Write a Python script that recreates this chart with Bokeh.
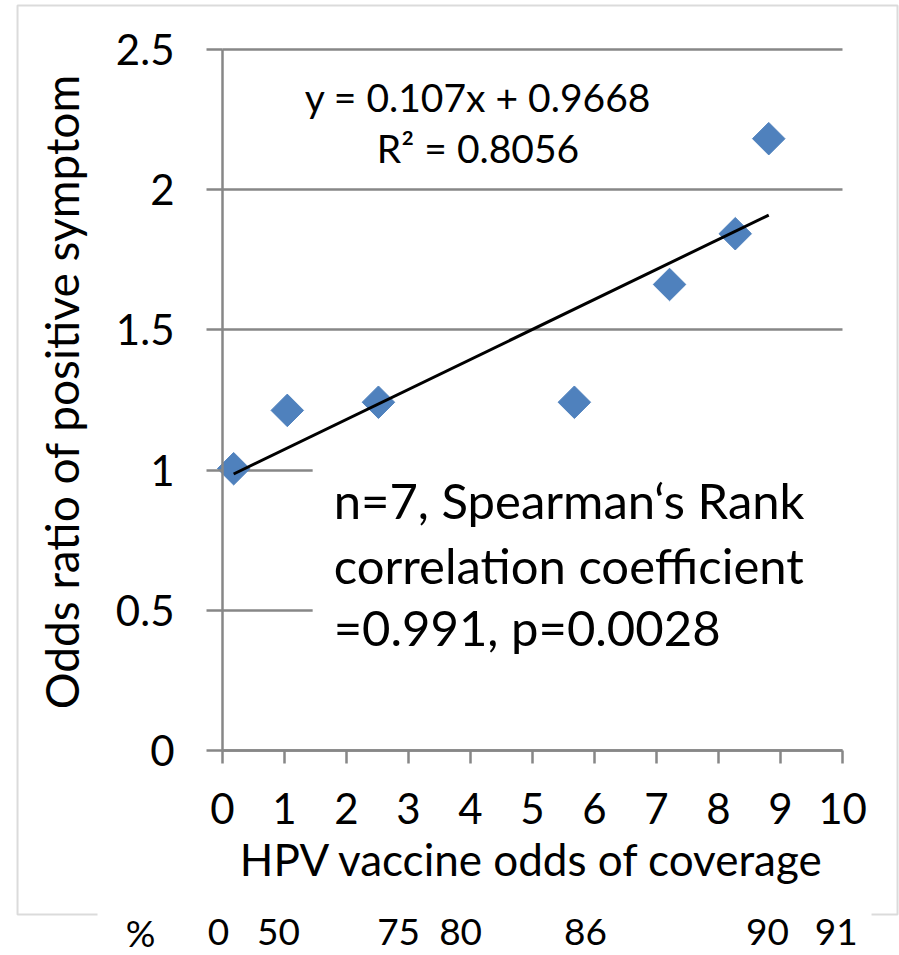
import numpy as np
from bokeh.plotting import figure
from bokeh.models import Range1d, FixedTicker, CustomJSTickFormatter, Label, BoxAnnotation
from bokeh.embed import file_html
from bokeh.resources import INLINE

# ---- data ----
x_odds = [0.18, 1.045, 2.515, 5.675, 7.21, 8.27, 8.81]
odds_ratio = [1.005, 1.213, 1.242, 1.242, 1.662, 1.843, 2.182]
slope = 0.107
intercept = 0.9668
r_squared = 0.8056
x_ticks = [0, 1, 2, 3, 4, 5, 6, 7, 8, 9, 10]
y_ticks = [0, 0.5, 1, 1.5, 2, 2.5]
pct_labels = ["0", "50", "75", "80", "86", "90", "91"]
pct_x = [-0.065, 0.903, 2.84, 3.84, 5.855, 8.79, 9.90]
stats_lines = ["n=7, Spearman\u2018s Rank", "correlation coefficient", "=0.991, p=0.0028"]
stats_y = [0.892, 0.663, 0.439]
x_title = "HPV vaccine odds of coverage"
y_title = "Odds ratio of positive symptom"

FONT = "Lato"
GRAY = "#878787"
BLUE = "#4F81BD"

# The frame covers the whole canvas; the axes sit at fixed data locations so that
# the surrounding texts and the chart border can be drawn without being clipped.
p = figure(width=899, height=955, output_backend="svg", toolbar_location=None,
           x_range=Range1d(-3.5806, 10.919), y_range=Range1d(-0.7311, 2.6748),
           min_border_left=0, min_border_right=0, min_border_top=0, min_border_bottom=0)
p.outline_line_color = None
p.background_fill_color = "white"
p.border_fill_color = "white"

p.xgrid.visible = False
p.ygrid.ticker = FixedTicker(ticks=y_ticks)
p.ygrid.bounds = (0, 2.5)
p.ygrid.cross_bounds = (0, 10)
p.ygrid.grid_line_color = GRAY
p.ygrid.grid_line_width = 2.5

fmt = CustomJSTickFormatter(code="return tick.toString();")
for ax in (p.xaxis[0], p.yaxis[0]):
    ax.fixed_location = 0
    ax.axis_line_color = GRAY
    ax.axis_line_width = 2.5
    ax.major_tick_line_color = GRAY
    ax.major_tick_line_width = 2.5
    ax.major_tick_in = 0
    ax.minor_tick_line_color = None
    ax.major_label_text_font = FONT
    ax.major_label_text_font_size = "42px"
    ax.major_label_text_color = "black"
    ax.axis_label_text_font = FONT
    ax.axis_label_text_font_style = "normal"
    ax.axis_label_text_color = "black"
    ax.formatter = fmt

p.xaxis.ticker = FixedTicker(ticks=x_ticks)
p.xaxis.bounds = (0, 10)
p.yaxis.ticker = FixedTicker(ticks=y_ticks)
p.yaxis.bounds = (0, 2.5)
p.xaxis.major_tick_out = 13
p.xaxis.major_label_standoff = 29
p.xaxis.axis_label = x_title
p.xaxis.axis_label_text_font_size = "44px"
p.xaxis.axis_label_standoff = 6
p.yaxis.major_tick_out = 16
p.yaxis.major_label_standoff = 32

# y axis title, placed where the reference shows it
p.add_layout(Label(x=-2.597, y=1.280, text=y_title, angle=np.pi / 2, text_font=FONT,
                   text_font_size="46px", text_align="center", text_baseline="middle",
                   text_color="black"))

# outer chart border
p.add_layout(BoxAnnotation(left=-3.306, right=10.887, top=2.657, bottom=-0.585,
                           fill_alpha=0, line_color=GRAY, line_width=2))

# data and trend line
p.scatter(x_odds, odds_ratio, marker="square", angle=np.pi / 4, size=23,
          fill_color=BLUE, line_color=BLUE, line_width=1)
tx = [min(x_odds), max(x_odds)]
ty = [slope * v + intercept for v in tx]
p.line(tx, ty, line_color="black", line_width=3)

# trendline equation
p.add_layout(Label(x=4.121, y=2.332, text=f"y = {slope}x + {intercept}", text_font=FONT,
                   text_font_size="39px", text_align="center", text_baseline="alphabetic",
                   text_color="black"))
p.add_layout(Label(x=4.121, y=2.150, text=f"R\u00b2 = {r_squared}", text_font=FONT,
                   text_font_size="39px", text_align="center", text_baseline="alphabetic",
                   text_color="black"))

# white text box for statistics
p.add_layout(BoxAnnotation(left=1.454, right=10.2, top=1.052, bottom=0.2, fill_color="white",
                           fill_alpha=1, line_color=None))
for line, yy in zip(stats_lines, stats_y):
    p.add_layout(Label(x=1.793, y=yy, text=line, text_font=FONT, text_font_size="49px",
                       text_align="left", text_baseline="alphabetic", text_color="black"))

# percentage row under the chart (its white box hides part of the border)
p.add_layout(BoxAnnotation(left=-2.016, right=10.468, top=-0.5635, bottom=-0.74,
                           fill_color="white", fill_alpha=1, line_color=None))
p.add_layout(Label(x=-1.32, y=-0.649, text="%", text_font=FONT, text_font_size="37px",
                   text_align="center", text_baseline="alphabetic", text_color="black"))
for lab, xx in zip(pct_labels, pct_x):
    p.add_layout(Label(x=xx, y=-0.649, text=lab, text_font=FONT, text_font_size="37px",
                       text_align="center", text_baseline="alphabetic", text_color="black"))

open("out.html", "w").write(file_html(p, INLINE))
